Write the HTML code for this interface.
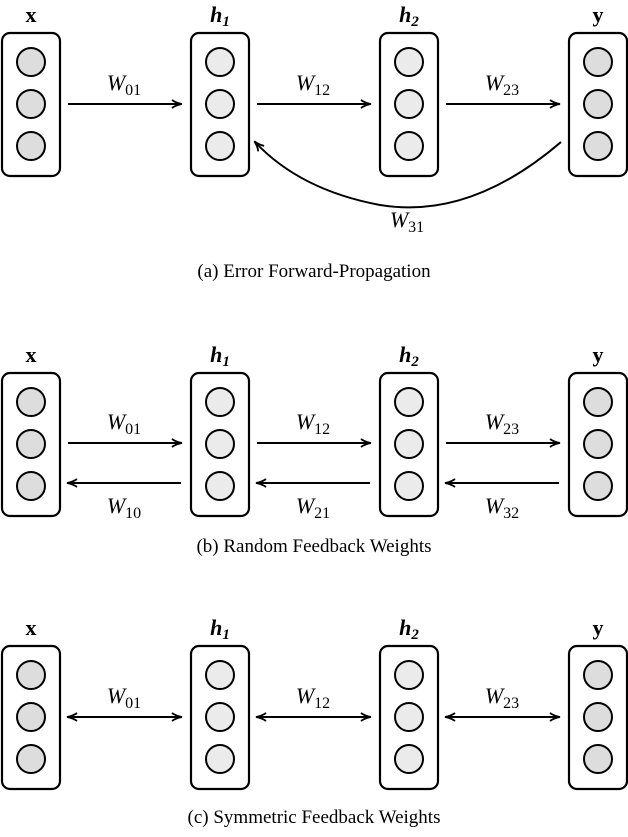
<!DOCTYPE html>
<html><head><style>body{margin:0;background:#fff}</style></head><body>
<svg width="628" height="832" viewBox="0 0 628 832" xmlns="http://www.w3.org/2000/svg" font-family="Liberation Serif, serif">
<defs>
<marker id="a" markerWidth="12" markerHeight="10" refX="10" refY="5" orient="auto" markerUnits="userSpaceOnUse">
<path d="M1,1 Q5,4 11,5 Q5,6 1,9" fill="none" stroke="#000" stroke-width="1.8"/>
</marker>
<marker id="s" markerWidth="12" markerHeight="10" refX="2" refY="5" orient="auto" markerUnits="userSpaceOnUse">
<path d="M11,1 Q7,4 1,5 Q7,6 11,9" fill="none" stroke="#000" stroke-width="1.8"/>
</marker>
<g id="bx"><rect x="2" y="0" width="58" height="143" rx="8" fill="#fff" stroke="#000" stroke-width="2.2"/></g>
<g id="cd"><circle cx="31" cy="29" r="14" fill="#ddd" stroke="#000" stroke-width="2"/><circle cx="31" cy="71" r="14" fill="#ddd" stroke="#000" stroke-width="2"/><circle cx="31" cy="113" r="14" fill="#ddd" stroke="#000" stroke-width="2"/></g>
<g id="cl"><circle cx="31" cy="29" r="14" fill="#ebebeb" stroke="#000" stroke-width="2"/><circle cx="31" cy="71" r="14" fill="#ebebeb" stroke="#000" stroke-width="2"/><circle cx="31" cy="113" r="14" fill="#ebebeb" stroke="#000" stroke-width="2"/></g>
<g id="layers">
<use href="#bx"/><use href="#cd"/>
<g transform="translate(189,0)"><use href="#bx"/><use href="#cl"/></g>
<g transform="translate(378,0)"><use href="#bx"/><use href="#cl"/></g>
<g transform="translate(567,0)"><use href="#bx"/><use href="#cd"/></g>
</g>
</defs>
<g font-size="22" font-weight="bold" text-anchor="middle">
<text x="31" y="22">x</text><text x="220" y="22" font-style="italic">h<tspan font-size="15" dy="4">1</tspan></text><text x="409" y="22" font-style="italic">h<tspan font-size="15" dy="4">2</tspan></text><text x="598" y="22">y</text>
<text x="31" y="362">x</text><text x="220" y="362" font-style="italic">h<tspan font-size="15" dy="4">1</tspan></text><text x="409" y="362" font-style="italic">h<tspan font-size="15" dy="4">2</tspan></text><text x="598" y="362">y</text>
<text x="31" y="635">x</text><text x="220" y="635" font-style="italic">h<tspan font-size="15" dy="4">1</tspan></text><text x="409" y="635" font-style="italic">h<tspan font-size="15" dy="4">2</tspan></text><text x="598" y="635">y</text>
</g>
<use href="#layers" transform="translate(0,33)"/>
<use href="#layers" transform="translate(0,373)"/>
<use href="#layers" transform="translate(0,646)"/>
<g stroke="#000" stroke-width="2" fill="none">
<line x1="68" y1="104" x2="181" y2="104" marker-end="url(#a)"/>
<line x1="257" y1="104" x2="370" y2="104" marker-end="url(#a)"/>
<line x1="446" y1="104" x2="559" y2="104" marker-end="url(#a)"/>
<path d="M561,142 Q470,220 380,205 Q300,190 255,142" marker-end="url(#a)"/>
<line x1="68" y1="443" x2="181" y2="443" marker-end="url(#a)"/>
<line x1="257" y1="443" x2="370" y2="443" marker-end="url(#a)"/>
<line x1="446" y1="443" x2="559" y2="443" marker-end="url(#a)"/>
<line x1="181" y1="483" x2="68" y2="483" marker-end="url(#a)"/>
<line x1="370" y1="483" x2="257" y2="483" marker-end="url(#a)"/>
<line x1="559" y1="483" x2="446" y2="483" marker-end="url(#a)"/>
<line x1="68" y1="717" x2="181" y2="717" marker-start="url(#s)" marker-end="url(#a)"/>
<line x1="257" y1="717" x2="370" y2="717" marker-start="url(#s)" marker-end="url(#a)"/>
<line x1="446" y1="717" x2="559" y2="717" marker-start="url(#s)" marker-end="url(#a)"/>
</g>
<g font-size="22" font-style="italic" text-anchor="middle">
<text x="124" y="90">W<tspan font-size="16" font-style="normal" dy="5">01</tspan></text>
<text x="313" y="90">W<tspan font-size="16" font-style="normal" dy="5">12</tspan></text>
<text x="502" y="90">W<tspan font-size="16" font-style="normal" dy="5">23</tspan></text>
<text x="407" y="227">W<tspan font-size="16" font-style="normal" dy="5">31</tspan></text>
<text x="124" y="429">W<tspan font-size="16" font-style="normal" dy="5">01</tspan></text>
<text x="313" y="429">W<tspan font-size="16" font-style="normal" dy="5">12</tspan></text>
<text x="502" y="429">W<tspan font-size="16" font-style="normal" dy="5">23</tspan></text>
<text x="124" y="513">W<tspan font-size="16" font-style="normal" dy="5">10</tspan></text>
<text x="313" y="513">W<tspan font-size="16" font-style="normal" dy="5">21</tspan></text>
<text x="502" y="513">W<tspan font-size="16" font-style="normal" dy="5">32</tspan></text>
<text x="124" y="703">W<tspan font-size="16" font-style="normal" dy="5">01</tspan></text>
<text x="313" y="703">W<tspan font-size="16" font-style="normal" dy="5">12</tspan></text>
<text x="502" y="703">W<tspan font-size="16" font-style="normal" dy="5">23</tspan></text>
</g>
<g font-size="19" text-anchor="middle">
<text x="314" y="277">(a) Error Forward-Propagation</text>
<text x="314" y="552">(b) Random Feedback Weights</text>
<text x="314" y="823">(c) Symmetric Feedback Weights</text>
</g>
</svg>
</body></html>
